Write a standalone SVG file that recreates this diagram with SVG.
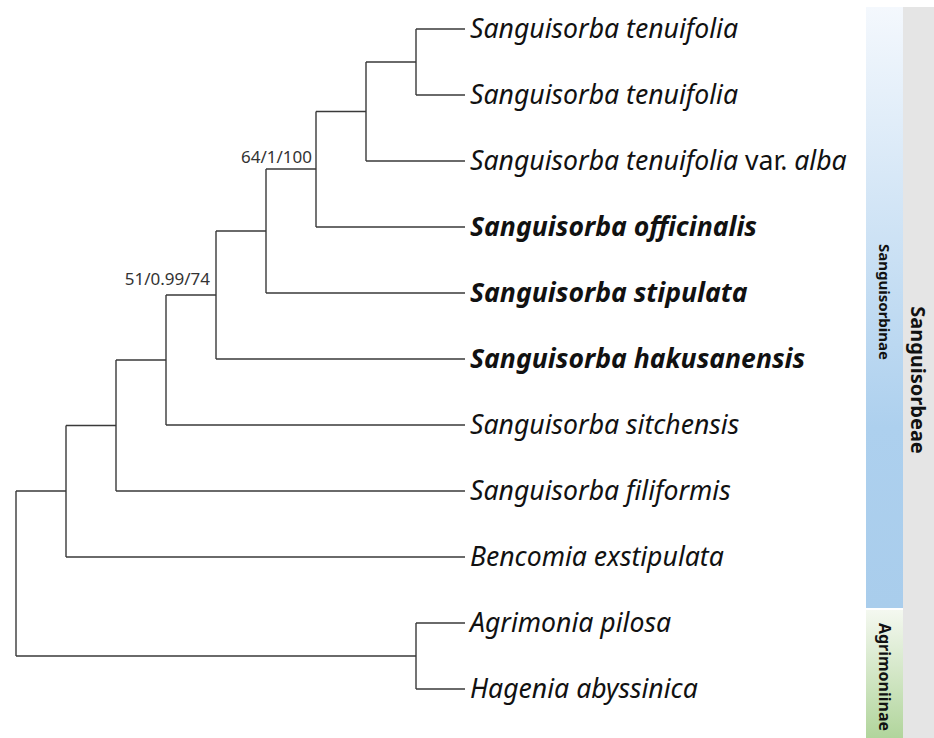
<svg xmlns="http://www.w3.org/2000/svg" width="934" height="738" viewBox="0 0 934 738">
<defs>
<linearGradient id="gBlue" x1="0" y1="0" x2="0" y2="1">
<stop offset="0" stop-color="#f4f8fd"/>
<stop offset="0.7" stop-color="#add0ee"/>
<stop offset="1" stop-color="#a9cdec"/>
</linearGradient>
<linearGradient id="gGreen" x1="0" y1="0" x2="0" y2="1">
<stop offset="0" stop-color="#f4f8f0"/>
<stop offset="1" stop-color="#b1d59c"/>
</linearGradient>
<style>
.br{fill:none;stroke:#3a3a3a;stroke-width:1.4}
.leaf{font-family:"Noto Sans","Open Sans",sans-serif;font-size:26.6px;font-style:italic;fill:#111}
.b{font-weight:bold}
.up{font-style:normal}
.sup{font-family:"Noto Sans","Open Sans",sans-serif;font-size:17px;fill:#333;text-anchor:end}
.grp{font-family:"Noto Sans","Open Sans",sans-serif;fill:#111;text-anchor:middle;dominant-baseline:central}
</style>
</defs>
<g id="bars">
<rect x="866" y="7" width="37" height="601" fill="url(#gBlue)"/>
<rect x="866" y="610" width="37" height="128" fill="url(#gGreen)"/>
<rect x="903" y="7" width="31" height="731" fill="#e5e5e5"/>
<text class="grp" font-size="15" font-weight="bold" transform="translate(884.5,302) rotate(90)">Sanguisorbinae</text>
<text class="grp" font-size="16" font-weight="bold" transform="translate(884.5,677) rotate(90)">Agrimoniinae</text>
<text class="grp" font-size="20" font-weight="bold" transform="translate(918.5,380) rotate(90)">Sanguisorbeae</text>
</g>
<g id="connectors">
<path class="br" d="M416,29 V95 M416,29 H465 M416,95 H465"/>
<path class="br" d="M366,62 V161 M366,62 H416 M366,161 H465"/>
<path class="br" d="M316,111.5 V227 M316,111.5 H366 M316,227 H465"/>
<path class="br" d="M266,169 V293 M266,169 H316 M266,293 H465"/>
<path class="br" d="M216,231 V359 M216,231 H266 M216,359 H465"/>
<path class="br" d="M166,295 V425 M166,295 H216 M166,425 H465"/>
<path class="br" d="M116,360 V491 M116,360 H166 M116,491 H465"/>
<path class="br" d="M66,425.5 V557 M66,425.5 H116 M66,557 H465"/>
<path class="br" d="M416,623 V689 M416,623 H465 M416,689 H465"/>
<path class="br" d="M16,491 V656 M16,491 H66 M16,656 H416"/>
</g>
<g id="support">
<text class="sup" x="312" y="163">64/1/100</text>
<text class="sup" x="210" y="285">51/0.99/74</text>
</g>
<g id="leaves">
<text id="t1" class="leaf" x="470" y="38">Sanguisorba tenuifolia</text>
<text id="t2" class="leaf" x="470" y="104">Sanguisorba tenuifolia</text>
<text id="t3" class="leaf" x="470" y="170">Sanguisorba tenuifolia<tspan class="up"> var. </tspan>alba</text>
<text id="t4" class="leaf b" x="470" y="236">Sanguisorba officinalis</text>
<text id="t5" class="leaf b" x="470" y="302">Sanguisorba stipulata</text>
<text id="t6" class="leaf b" x="470" y="368">Sanguisorba hakusanensis</text>
<text id="t7" class="leaf" x="470" y="434">Sanguisorba sitchensis</text>
<text id="t8" class="leaf" x="470" y="500">Sanguisorba filiformis</text>
<text id="t9" class="leaf" x="470" y="566">Bencomia exstipulata</text>
<text id="t10" class="leaf" x="470" y="632">Agrimonia pilosa</text>
<text id="t11" class="leaf" x="470" y="698">Hagenia abyssinica</text>
</g>
</svg>
